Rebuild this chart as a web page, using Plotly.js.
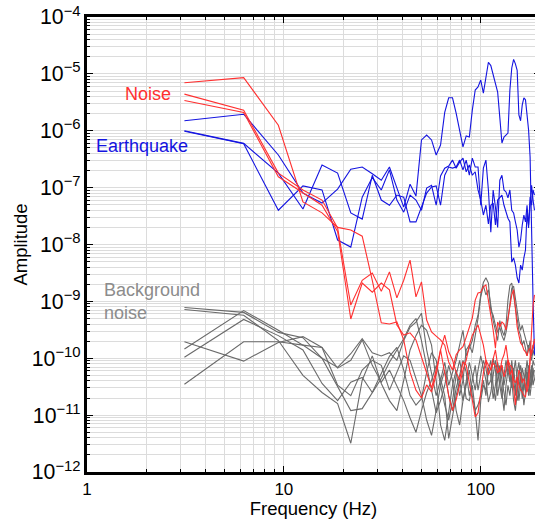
<!DOCTYPE html>
<html>
<head>
<meta charset="utf-8">
<script src="https://cdn.plot.ly/plotly-3.0.1.min.js"></script>
<style>
  html, body { margin: 0; padding: 0; overflow: hidden; background: #fff; }
  #chart { width: 560px; height: 519px; }
</style>
</head>
<body>
<div id="chart"></div>
<script>
// Spectral amplitude, 3.125 Hz bins
const freqHz = [3.125, 6.25, 9.375, 12.5, 15.625, 18.75, 21.875, 25, 28.125, 31.25,
  34.375, 37.5, 40.625, 43.75, 46.875, 50, 53.125, 56.25, 59.375, 62.5,
  65.625, 68.75, 71.875, 75, 78.125, 81.25, 84.375, 87.5, 90.625, 93.75,
  96.875, 100, 103.125, 106.25, 109.375, 112.5, 115.625, 118.75, 121.875, 125,
  128.125, 131.25, 134.375, 137.5, 140.625, 143.75, 146.875, 150, 153.125, 156.25,
  159.375, 162.5, 165.625, 168.75, 171.875, 175, 178.125, 181.25, 184.375, 187.5];

// Noise records
const noise1 = [7.0e-6, 8.6e-6, 1.25e-6, 5.6e-8, 3.6e-8, 2.0e-8, 1.8e-8, 1.4e-8, 2.35e-9, 4.2e-10,
  4.0e-10, 4.35e-10, 2.1e-10, 5.7e-11, 2.75e-11, 2.0e-11, 3.4e-11, 2.55e-11, 5.1e-11, 1.4e-10,
  2.55e-10, 1.3e-10, 9.3e-11, 5.7e-11, 4.15e-11, 8.6e-11, 7.6e-11, 3.7e-11, 1.85e-11, 9.3e-12,
  1.1e-11, 2.55e-11, 5.5e-11, 9.3e-11, 7.6e-11, 6.2e-11, 8.2e-11, 7.3e-11, 5.5e-11, 6.7e-11,
  7.6e-11, 4.7e-11, 6.2e-11, 9.3e-11, 7.6e-11, 7.0e-11, 4.15e-11, 3.7e-11, 4.7e-11, 3.4e-11,
  2.75e-11, 2.55e-11, 2.2e-11, 2.1e-11, 3.0e-11, 4.7e-11, 9.3e-11, 1.2e-10, 1.6e-10, 2.2e-10];
const noise2 = [4.4e-6, 2.3e-6, 1.8e-7, 9.1e-8, 6.05e-8, 1.95e-8, 8.6e-10, 2.35e-9, 3.15e-9, 1.5e-9,
  3.3e-9, 1.15e-9, 2.35e-9, 5.3e-9, 1.2e-9, 2.2e-9, 4.7e-10, 2.9e-10, 2.45e-10, 2.1e-10,
  1.7e-10, 8.6e-11, 6.2e-11, 1.15e-10, 1.4e-10, 1.6e-10, 2.35e-10, 3.55e-10, 5.1e-10, 1.05e-9,
  1.4e-9, 1.45e-9, 1.8e-9, 1.95e-9, 1.05e-9, 6.5e-10, 3.15e-10, 1.5e-10, 4.35e-10, 3.55e-10,
  4.35e-10, 4.0e-10, 3.15e-10, 5.1e-10, 8.6e-10, 1.3e-9, 1.6e-9, 7.0e-10, 3.55e-10, 2.55e-10,
  1.85e-10, 1.7e-10, 1.4e-10, 1.3e-10, 1.1e-10, 1.4e-10, 1.5e-10, 1.2e-10, 1.6e-10, 2.0e-10];
const noise3 = [3.4e-6, 2.1e-6, 1.55e-7, 8.0e-8, 4.9e-8, 1.7e-8, 4.9e-10, 2.1e-9, 1.45e-9, 2.1e-9,
  1.6e-9, 3.85e-10, 2.55e-10, 2.8e-10, 2.1e-10, 1.05e-10, 5.7e-11, 3.0e-11, 6.2e-11, 1.4e-10,
  5.5e-11, 2.2e-11, 1.2e-11, 1.85e-11, 3.4e-11, 6.2e-11, 9.3e-11, 1.7e-10, 2.55e-10, 3.15e-10,
  3.85e-10, 2.55e-10, 1.7e-10, 9.3e-11, 5.1e-11, 6.7e-11, 9.3e-11, 1.4e-10, 7.6e-11, 5.7e-11,
  9.3e-11, 1.15e-10, 1.7e-10, 9.3e-11, 5.1e-11, 6.2e-11, 2.75e-11, 1.5e-11, 3.4e-11, 6.2e-11,
  5.1e-11, 3.7e-11, 4.4e-11, 3.4e-11, 2.55e-11, 3.4e-11, 9.3e-11, 3.15e-10, 8.6e-10, 1.3e-9];

// Earthquake records
const quake1 = [1.5e-6, 1.95e-6, 3.75e-7, 8.0e-8, 5.35e-8, 9.4e-8, 2.1e-7, 2.3e-7, 1.75e-7, 1.35e-7,
  2.3e-7, 1.03e-7, 4.55e-8, 1.15e-7, 7.1e-8, 6.9e-7, 8.4e-7, 6.9e-7, 3.75e-7, 5.6e-7,
  2.1e-6, 3.8e-6, 3.8e-6, 2.05e-6, 1.03e-6, 5.2e-7, 8.1e-7, 7.75e-7, 2.3e-6, 5.2e-6,
  5.9e-6, 7.8e-6, 4.6e-6, 9.6e-6, 1.6e-5, 1.4e-5, 9.6e-6, 6.4e-6, 4.8e-6, 1.7e-6,
  6.1e-7, 7.75e-7, 8.4e-7, 9.1e-7, 5.2e-6, 1.27e-5, 1.8e-5, 1.5e-5, 1.15e-5, 1.9e-6,
  1.5e-6, 2.85e-6, 3.8e-6, 3.5e-6, 1.9e-6, 1.03e-6, 3.45e-7, 1.2e-8, 1.05e-9, 1.15e-10];
const quake2 = [1.0e-6, 6.0e-7, 1.8e-7, 4.2e-8, 2.5e-7, 1.8e-7, 3.6e-8, 2.8e-8, 1.65e-7, 6.05e-8,
  4.9e-8, 7.4e-8, 6.8e-8, 2.5e-8, 2.5e-8, 4.55e-8, 8.0e-8, 1.03e-7, 1.07e-7, 4.9e-8,
  1.65e-7, 2.3e-7, 2.2e-7, 2.3e-7, 3.05e-7, 2.05e-7, 3.05e-7, 1.65e-7, 3.3e-7, 2.3e-7,
  2.3e-7, 4.9e-8, 2.2e-7, 3.05e-7, 9.1e-8, 1.65e-8, 9.1e-8, 4.55e-8, 2.0e-8, 1.35e-7,
  1.65e-7, 9.1e-8, 8.4e-8, 6.6e-8, 9.1e-8, 4.0e-8, 3.6e-8, 2.5e-8, 1.8e-8, 9.0e-9,
  1.2e-8, 2.2e-8, 3.3e-8, 2.5e-8, 4.9e-8, 2.2e-8, 6.05e-8, 1.1e-7, 6.05e-8, 4.0e-8];
const quake3 = [9.8e-7, 5.9e-7, 4.0e-8, 1.07e-7, 9.1e-8, 1.2e-8, 9.0e-9, 6.8e-8, 1.5e-7, 9.1e-8,
  2.05e-7, 6.05e-8, 3.7e-8, 7.4e-8, 6.05e-8, 4.0e-8, 9.8e-8, 1.1e-7, 4.9e-8, 1.6e-7,
  2.2e-7, 2.4e-7, 3.05e-7, 2.2e-7, 2.8e-7, 3.3e-7, 1.9e-7, 2.5e-7, 1.65e-7, 1.9e-7,
  9.1e-8, 6.05e-8, 3.3e-8, 4.9e-8, 2.3e-8, 4.9e-8, 5.35e-8, 2.2e-8, 6.05e-8, 6.8e-8,
  7.4e-8, 4.9e-8, 3.7e-8, 2.9e-8, 2.5e-8, 4.9e-9, 5.8e-9, 4.35e-9, 2.6e-9, 2.1e-9,
  4.35e-9, 3.55e-9, 5.8e-9, 8.0e-9, 3.7e-8, 1.95e-8, 6.8e-8, 4.9e-8, 9.1e-8, 7.4e-8];

// Background noise records
const background1 = [7.8e-10, 6.4e-10, 2.85e-10, 2.3e-10, 1.0e-10, 6.9e-11, 1.2e-10, 2.2e-10, 1.25e-10, 1.1e-10,
  1.25e-10, 9.2e-11, 2.05e-10, 3.5e-10, 4.3e-10, 6.2e-10, 1.4e-10, 5.0e-11, 2.2e-11, 4.1e-11,
  8.5e-11, 3.35e-11, 5.7e-11, 9.2e-11, 1.7e-10, 3.1e-10, 1.1e-10, 1.5e-10, 2.05e-10, 3.8e-10,
  5.7e-10, 1.3e-9, 2.15e-9, 2.6e-9, 2.1e-9, 6.9e-10, 5.7e-10, 3.8e-10, 2.85e-10, 3.5e-10,
  2.5e-10, 2.05e-10, 2.85e-10, 4.6e-10, 1.05e-9, 1.7e-9, 1.85e-9, 1.05e-9, 6.9e-10, 4.3e-10,
  3.1e-10, 3.8e-10, 2.85e-10, 2.2e-10, 1.7e-10, 1.4e-10, 2.05e-10, 1.1e-10, 1.7e-10, 1.4e-10];
const background2 = [7.2e-10, 5.7e-10, 2.05e-10, 5.0e-11, 2.5e-11, 1.6e-11, 3.2e-12, 4.1e-11, 1.1e-10, 3.6e-11,
  1.8e-11, 1.2e-11, 4.1e-11, 1.4e-10, 2.5e-10, 3.8e-10, 3.1e-10, 1.7e-10, 4.1e-11, 6.7e-12,
  3.6e-12, 1.2e-11, 3.35e-11, 6.2e-11, 2.2e-11, 4.1e-11, 1.4e-10, 1.7e-10, 1.25e-10, 2.5e-10,
  5.0e-10, 1.2e-9, 1.9e-9, 1.3e-9, 1.6e-9, 8.5e-10, 4.6e-10, 3.1e-10, 2.05e-10, 4.6e-10,
  3.1e-10, 2.5e-10, 3.8e-10, 1.05e-9, 1.9e-9, 2.1e-9, 1.3e-9, 6.9e-10, 4.6e-10, 3.1e-10,
  2.5e-10, 1.7e-10, 2.05e-10, 1.4e-10, 1.1e-10, 1.7e-10, 1.25e-10, 9.2e-11, 1.4e-10, 1.1e-10];
const background3 = [1.45e-10, 6.9e-10, 3.1e-10, 1.7e-10, 1.55e-10, 3.35e-11, 2.2e-11, 6.2e-11, 9.2e-11, 7.5e-11,
  2.75e-11, 5.7e-11, 1.1e-10, 9.2e-11, 4.4e-11, 2.2e-11, 8.2e-12, 4.4e-12, 1.2e-11, 3.35e-11,
  6.2e-11, 2.2e-11, 1.2e-11, 3.0e-11, 5.0e-11, 9.2e-11, 5.7e-11, 2.2e-11, 4.1e-11, 7.5e-11,
  2.75e-11, 5.0e-11, 9.2e-11, 6.7e-11, 3.35e-11, 4.1e-11, 1.0e-10, 6.2e-11, 2.2e-11, 4.1e-11,
  7.5e-11, 3.35e-11, 5.7e-11, 9.2e-11, 5.0e-11, 3.0e-11, 5.7e-11, 9.2e-11, 4.1e-11, 1.8e-11,
  3.35e-11, 6.7e-11, 5.0e-11, 2.5e-11, 4.4e-11, 7.5e-11, 6.2e-11, 3.35e-11, 5.0e-11, 6.2e-11];
const background4 = [1.04e-10, 4.8e-10, 2.5e-10, 1.4e-10, 3.6e-11, 1.8e-11, 3.8e-11, 4.6e-11, 2.5e-11, 5.4e-11,
  1.08e-10, 1.55e-10, 6.2e-11, 2.2e-11, 1.5e-11, 1.95e-11, 5.7e-11, 1.25e-10, 9.2e-11, 3.35e-11,
  1.5e-11, 8.2e-12, 1.8e-11, 5.0e-11, 9.2e-11, 4.4e-11, 1.95e-11, 1.8e-11, 3.35e-11, 1.2e-11,
  3.6e-12, 1.8e-11, 3.35e-11, 2.75e-11, 6.7e-11, 5.0e-11, 1.95e-11, 3.35e-11, 8.5e-11, 5.0e-11,
  2.5e-11, 1.2e-11, 3.35e-11, 6.2e-11, 3.8e-11, 9.2e-11, 4.4e-11, 2.2e-11, 5.7e-11, 8.5e-11,
  4.1e-11, 1.95e-11, 3.35e-11, 6.7e-11, 5.0e-11, 2.2e-11, 4.1e-11, 7.5e-11, 3.35e-11, 4.4e-11];
const background5 = [1.95e-10, 8.9e-11, 1.9e-10, 2.4e-10, 1.55e-10, 6.7e-11, 9.2e-11, 2.1e-10, 7.5e-11, 3.8e-11,
  6.2e-11, 3.35e-11, 1.8e-11, 8.9e-12, 5.0e-12, 1.2e-11, 2.5e-11, 4.1e-11, 7.5e-11, 4.4e-11,
  2.2e-11, 3.9e-12, 1.0e-11, 2.2e-11, 4.1e-11, 1.8e-11, 3.35e-11, 6.2e-11, 2.2e-11, 1.2e-11,
  1.5e-11, 2.2e-11, 4.1e-11, 2.2e-11, 6.2e-11, 9.2e-11, 3.35e-11, 1.8e-11, 4.4e-11, 7.5e-11,
  4.1e-11, 2.2e-11, 1.5e-11, 3.35e-11, 2.2e-11, 4.4e-11, 6.7e-11, 3.35e-11, 1.8e-11, 2.75e-11,
  5.7e-11, 3.35e-11, 1.5e-11, 2.5e-11, 5.7e-11, 4.1e-11, 2.2e-11, 3.8e-11, 6.7e-11, 4.1e-11];
const background6 = [3.5e-11, 1.95e-10, 1.95e-10, 1.7e-10, 1.0e-10, 3.1e-11, 1.2e-11, 1.3e-11, 2.5e-11, 4.4e-11,
  8.5e-11, 1.4e-10, 2.2e-10, 3.8e-10, 5.0e-10, 2.05e-10, 7.5e-11, 3.0e-11, 1.1e-11, 1.8e-11,
  3.35e-11, 7.5e-11, 4.1e-11, 1.2e-11, 6.7e-12, 1.8e-11, 4.4e-11, 8.5e-11, 5.0e-11, 2.75e-11,
  6.2e-11, 1.1e-10, 6.7e-11, 4.1e-11, 1.7e-11, 2.5e-11, 5.0e-11, 9.2e-11, 5.7e-11, 3.0e-11,
  1.95e-11, 5.0e-11, 9.2e-11, 5.7e-11, 7.5e-11, 4.1e-11, 1.8e-11, 1.2e-11, 2.5e-11, 5.0e-11,
  7.5e-11, 4.4e-11, 2.75e-11, 5.0e-11, 9.2e-11, 5.7e-11, 3.0e-11, 5.0e-11, 9.2e-11, 7.5e-11];

const groupLabels = ['Noise', 'Earthquake', 'Background<br>noise'];

const NOISE_COLOR = '#ff3030';
const QUAKE_COLOR = '#1414e0';
const BG_COLOR = '#6a6a6a';
const BG_TEXT = '#8c8c8c';
const FONT = '"Liberation Sans", Arial, Helvetica, sans-serif';

function spectrum(y, color) {
  return { x: freqHz, y: y, type: 'scatter', mode: 'lines',
           line: { color: color, width: 1.1 }, hoverinfo: 'skip', showlegend: false };
}

const traces = [
  ...[background1, background2, background3, background4, background5, background6].map(s => spectrum(s, BG_COLOR)),
  ...[quake1, quake2, quake3].map(s => spectrum(s, QUAKE_COLOR)),
  ...[noise1, noise2, noise3].map(s => spectrum(s, NOISE_COLOR))
];

const axisBase = {
  type: 'log', dtick: 1,
  showline: true, linecolor: '#000', linewidth: 3, mirror: 'ticks',
  ticks: 'inside', ticklen: 6, tickwidth: 1, tickcolor: '#000',
  showgrid: true, gridcolor: '#dcdcdc', gridwidth: 1, zeroline: false,
  minor: { dtick: 'D1', ticks: 'inside', ticklen: 3, tickwidth: 1, tickcolor: '#000',
           showgrid: true, gridcolor: '#dcdcdc', gridwidth: 1 },
  tickfont: { family: FONT, size: 17, color: '#000' }
};

const layout = {
  width: 560, height: 519,
  margin: { l: 87, r: 20, t: 17, b: 47 },
  paper_bgcolor: '#fff', plot_bgcolor: '#fff',
  showlegend: false,
  xaxis: Object.assign({}, axisBase, {
    range: [0, Math.log10(200)], exponentformat: 'none',
    title: { text: 'Frequency (Hz)', font: { family: FONT, size: 18.5, color: '#000' }, standoff: 6 }
  }),
  yaxis: Object.assign({}, axisBase, {
    range: [-12, -4], exponentformat: 'power', showexponent: 'all',
    title: { text: 'Amplitude', font: { family: FONT, size: 18.5, color: '#000' }, standoff: 0 }
  }),
  annotations: [
    { text: groupLabels[0], x: Math.log10(2.04), y: -5.354, xref: 'x', yref: 'y',
      xanchor: 'center', yanchor: 'middle', showarrow: false,
      font: { family: FONT, size: 18, color: NOISE_COLOR } },
    { text: groupLabels[1], x: Math.log10(1.895), y: -6.268, xref: 'x', yref: 'y',
      xanchor: 'center', yanchor: 'middle', showarrow: false,
      font: { family: FONT, size: 18, color: QUAKE_COLOR } },
    { text: groupLabels[2], x: Math.log10(1.187), y: -9.0, xref: 'x', yref: 'y',
      xanchor: 'left', yanchor: 'middle', align: 'left', showarrow: false,
      font: { family: FONT, size: 18, color: BG_TEXT } }
  ]
};

Plotly.newPlot('chart', traces, layout, { staticPlot: true, displayModeBar: false });
</script>
</body>
</html>
